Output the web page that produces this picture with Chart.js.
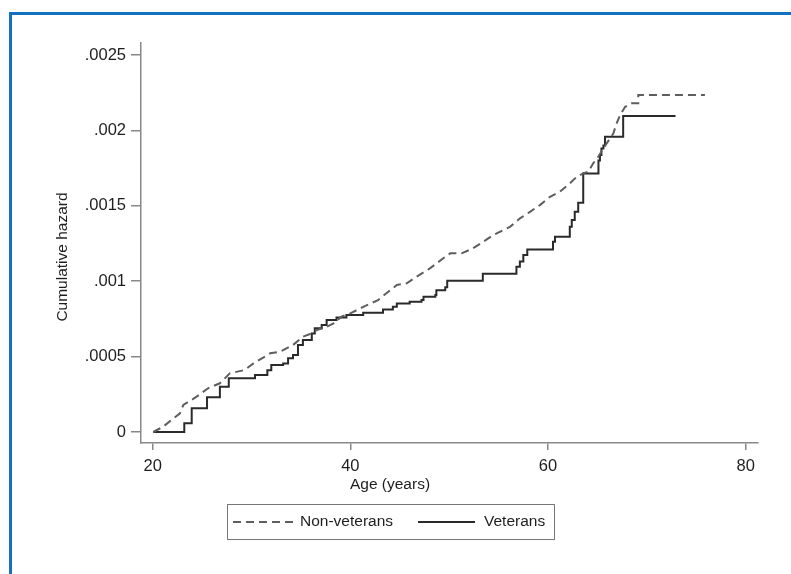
<!DOCTYPE html>
<html>
<head>
<meta charset="utf-8">
<title>Cumulative hazard by age</title>
<script src="https://cdn.jsdelivr.net/npm/chart.js@4.4.1/dist/chart.umd.min.js"></script>
<style>
  html, body { margin: 0; padding: 0; background: #fff; }
  #wrap { position: relative; width: 791px; height: 574px; overflow: hidden; }
  #frame { position: absolute; left: 9px; top: 12px; width: 900px; height: 700px;
           border-left: 3px solid #1470c0; border-top: 3px solid #1470c0; }
  #myChart { position: absolute; left: 0; top: 0; }
</style>
</head>
<body>
<div id="wrap">
  <div id="frame"></div>
  <canvas id="myChart" width="791" height="574"></canvas>
</div>
<script>
// Nelson-Aalen cumulative hazard, by age (years)
const nonVetAge = [20.06, 21.07, 21.9, 22.76, 23.1, 24.45, 25.6, 26.8, 27.8, 29.3, 30.2, 31.9, 32.9,
  34.2, 35.2, 36.1, 36.6, 37.6, 38.3, 39.1, 40.0, 41.3, 42.8, 44.7, 45.7, 46.7, 48.05, 49.4, 50.1,
  51.26, 52.4, 53.45, 54.46, 56.15, 57.16, 58.17, 59.18, 60.2, 61.2, 62.2, 62.9, 63.56, 64.07,
  64.57, 65.08, 65.59, 65.93, 66.6, 66.94, 67.28, 67.8, 68.46, 69.13, 69.13, 75.87];
const nonVetHazard = [0, 0.000035, 0.00008, 0.000124, 0.000179, 0.000234, 0.00029, 0.000323,
  0.000389, 0.000411, 0.000455, 0.000522, 0.000533, 0.000577, 0.000632, 0.000654, 0.000676,
  0.000698, 0.000721, 0.000765, 0.000787, 0.00083, 0.000875, 0.000975, 0.000986, 0.00103,
  0.001085, 0.001152, 0.001185, 0.001185, 0.001218, 0.001262, 0.001306, 0.001361, 0.001417,
  0.00146, 0.001505, 0.00156, 0.001594, 0.001649, 0.001693, 0.001715, 0.001726, 0.001782,
  0.001826, 0.00188, 0.001914, 0.00198, 0.002047, 0.002102, 0.002157, 0.00218, 0.00218,
  0.002235, 0.002235];

// veterans: jump times and the level reached at each one
const vetAge = [20.06, 23.2, 23.95, 25.5, 26.8, 27.7, 30.35, 31.6, 32.0, 33.2, 33.7, 34.2, 34.7,
  35.2, 36.1, 36.4, 37.1, 37.6, 38.6, 39.6, 41.3, 43.3, 44.3, 44.7, 46.0, 47.2, 47.4, 48.6, 48.7,
  49.6, 49.8, 53.4, 56.8, 57.15, 57.5, 57.9, 60.5, 60.7, 62.2, 62.4, 62.7, 63.05, 63.56, 65.1,
  65.25, 65.4, 65.6, 65.76, 67.6, 72.9];
const vetHazard = [0, 0.0000575, 0.000157, 0.00023, 0.0003, 0.000356, 0.000378, 0.00041,
  0.000444, 0.000455, 0.000489, 0.00051, 0.000577, 0.00061, 0.000654, 0.000688, 0.00071,
  0.000743, 0.00076, 0.000776, 0.000791, 0.000813, 0.00083, 0.000853, 0.000864, 0.000875,
  0.000897, 0.000908, 0.00094, 0.00096, 0.001003, 0.00105, 0.001096, 0.00113, 0.001174,
  0.001211, 0.001262, 0.001295, 0.001361, 0.001406, 0.00146, 0.00152, 0.001715, 0.0018,
  0.001837, 0.00188, 0.0019, 0.001958, 0.002095, 0.002095];

const xTicks = [20, 40, 60, 80];
const yTicks = [0, 0.0005, 0.001, 0.0015, 0.002, 0.0025];
const yTickLabels = ['0', '.0005', '.001', '.0015', '.002', '.0025'];

const toPoints = (xs, ys) => xs.map((x, i) => ({ x: x, y: ys[i] }));

const FONT = '"Liberation Sans", Arial, Helvetica, sans-serif';
Chart.defaults.font.family = FONT;
Chart.defaults.font.size = 15;
Chart.defaults.color = '#1e1e1e';

// axis titles (centred on the whole graph, not the plot) and the boxed legend
const stataDecor = {
    id: 'stataDecor',
    afterDraw(chart) {
        const ctx = chart.ctx;
        ctx.save();

        ctx.font = '15.5px ' + FONT;
        ctx.fillStyle = '#1e1e1e';
        ctx.textAlign = 'center';
        ctx.textBaseline = 'middle';
        ctx.fillText('Age (years)', 390, 485);

        ctx.translate(63, 257);
        ctx.rotate(-Math.PI / 2);
        ctx.fillText('Cumulative hazard', 0, 0);
        ctx.setTransform(1, 0, 0, 1, 0, 0);

        ctx.strokeStyle = '#777';
        ctx.lineWidth = 1;
        ctx.strokeRect(227.5, 504.5, 327, 35);

        const slots = [
            { x0: 233, x1: 293, tx: 300 },
            { x0: 418, x1: 475, tx: 484 }
        ];
        const y = 522;
        ctx.font = '15.5px ' + FONT;
        chart.data.datasets.forEach((ds, i) => {
            const s = slots[i];
            ctx.beginPath();
            ctx.setLineDash(ds.borderDash || []);
            ctx.strokeStyle = ds.borderColor;
            ctx.lineWidth = ds.borderWidth;
            ctx.moveTo(s.x0, y);
            ctx.lineTo(s.x1, y);
            ctx.stroke();
            ctx.setLineDash([]);
            ctx.textAlign = 'left';
            ctx.fillStyle = '#1e1e1e';
            ctx.fillText(ds.label, s.tx, y);
        });
        ctx.restore();
    }
};

const data = {
    datasets: [
        {
            label: 'Non-veterans',
            data: toPoints(nonVetAge, nonVetHazard),
            borderColor: '#5e5e5e',
            borderWidth: 2,
            borderDash: [8, 5],
            pointRadius: 0,
            fill: false,
            tension: 0
        },
        {
            label: 'Veterans',
            data: toPoints(vetAge, vetHazard),
            borderColor: '#2a2a2a',
            borderWidth: 2,
            stepped: 'before',
            pointRadius: 0,
            fill: false
        }
    ]
};

const config = {
    type: 'line',
    data: data,
    plugins: [stataDecor],
    options: {
        responsive: false,
        animation: false,
        layout: { padding: { left: 0, top: 43, right: 33, bottom: 79 } },
        plugins: {
            legend: { display: false },
            tooltip: { enabled: false }
        },
        scales: {
            x: {
                type: 'linear',
                min: 18.82,
                max: 81.24,
                afterFit: (scale) => { scale.height = 52; },
                afterBuildTicks: (scale) => { scale.ticks = xTicks.map(v => ({ value: v })); },
                grid: { drawOnChartArea: false, drawTicks: true, tickLength: 7, color: '#888', lineWidth: 1.5 },
                border: { display: true, color: '#888', width: 1.5 },
                ticks: { padding: 7, maxRotation: 0, autoSkip: false, font: { size: 16.5 }, color: '#1e1e1e' }
            },
            y: {
                type: 'linear',
                min: -0.000073,
                max: 0.00258,
                afterFit: (scale) => { scale.width = 141; },
                afterBuildTicks: (scale) => { scale.ticks = yTicks.map(v => ({ value: v })); },
                grid: { drawOnChartArea: false, drawTicks: true, tickLength: 10, color: '#888', lineWidth: 1.5 },
                border: { display: true, color: '#888', width: 1.5 },
                ticks: {
                    padding: 5,
                    autoSkip: false,
                    font: { size: 16.5 },
                    color: '#1e1e1e',
                    callback: (value) => {
                        const i = yTicks.findIndex(t => Math.abs(t - value) < 1e-9);
                        return i >= 0 ? yTickLabels[i] : '';
                    }
                }
            }
        }
    }
};

const myChart = new Chart(document.getElementById('myChart'), config);
</script>
</body>
</html>
